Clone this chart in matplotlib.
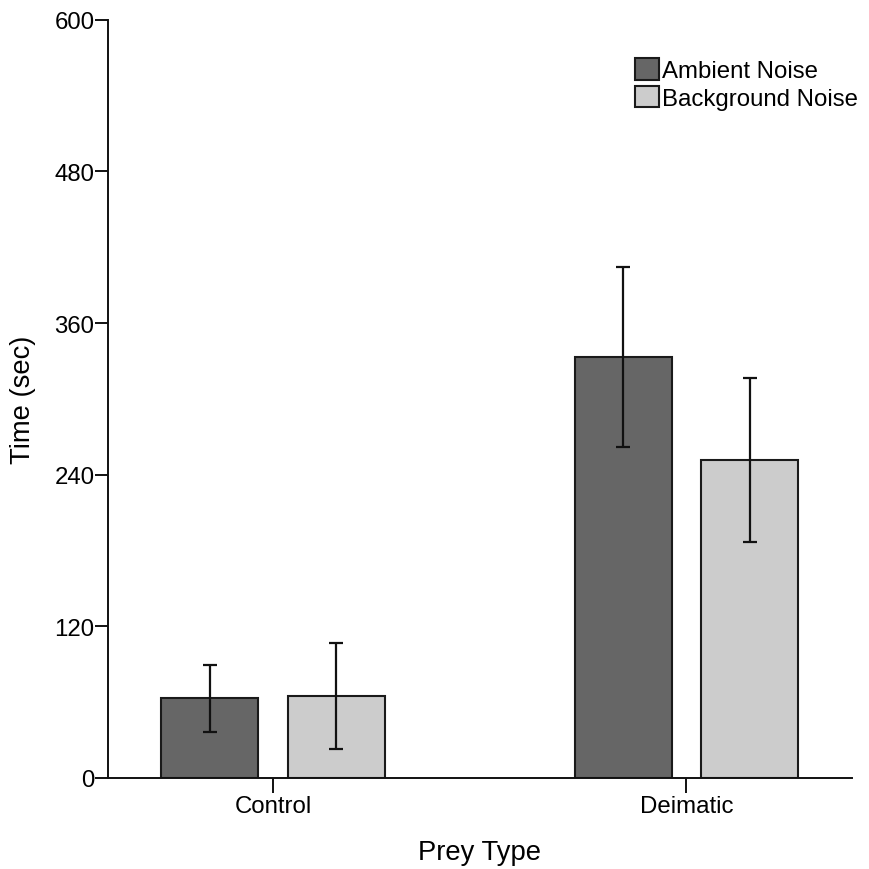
import numpy as np
import matplotlib
matplotlib.use("Agg")
import matplotlib.pyplot as plt

plt.rcParams['font.family'] = ['Liberation Sans', 'DejaVu Sans']

# Mean time (sec) and error per prey type
prey_types = ["Control", "Deimatic"]
ambient_mean = [63, 333]
ambient_err = [26.5, 71]
background_mean = [65, 251.5]
background_err = [42, 65]
y_ticks = [0, 120, 240, 360, 480, 600]

fig = plt.figure(figsize=(8.69, 8.70), dpi=100)
ax = fig.add_axes([0.124, 0.1046, 0.856, 0.8716])

x = np.arange(len(prey_types))
offset = 0.153
width = 0.235
err_kw = dict(ecolor="#111111", elinewidth=1.6, capsize=5, capthick=1.6)

ax.bar(x - offset, ambient_mean, width, yerr=ambient_err, color="#666666",
       edgecolor="#1a1a1a", linewidth=1.5, error_kw=err_kw, label="Ambient Noise")
ax.bar(x + offset, background_mean, width, yerr=background_err, color="#cccccc",
       edgecolor="#1a1a1a", linewidth=1.5, error_kw=err_kw, label="Background Noise")

ax.set_xlim(-0.4, 1.4)
ax.set_ylim(0, 600)
ax.set_xticks(x)
ax.set_xticklabels(prey_types)
ax.set_yticks(y_ticks)

for side in ["top", "right"]:
    ax.spines[side].set_visible(False)
for side in ["left", "bottom"]:
    ax.spines[side].set_linewidth(1.4)
    ax.spines[side].set_color("#111111")

ax.tick_params(axis="y", length=9.5, width=1.4, pad=0, labelsize=17.3, color="#111111")
ax.tick_params(axis="x", length=11, width=1.4, pad=1.5, labelsize=17.3, color="#111111")

ax.set_xlabel("Prey Type", fontsize=19.7)
ax.set_ylabel("Time (sec)", fontsize=19.7)
ax.xaxis.set_label_coords(0.5, -0.081)
ax.yaxis.set_label_coords(-0.097, 0.5)

fig.legend(loc="upper left", bbox_to_anchor=(0.731, 0.932), frameon=False,
           fontsize=17.3, handlelength=1.0, handleheight=1.0, handletextpad=0.12,
           labelspacing=0.15, borderpad=0, borderaxespad=0)

fig.savefig("out.png", dpi=100)
